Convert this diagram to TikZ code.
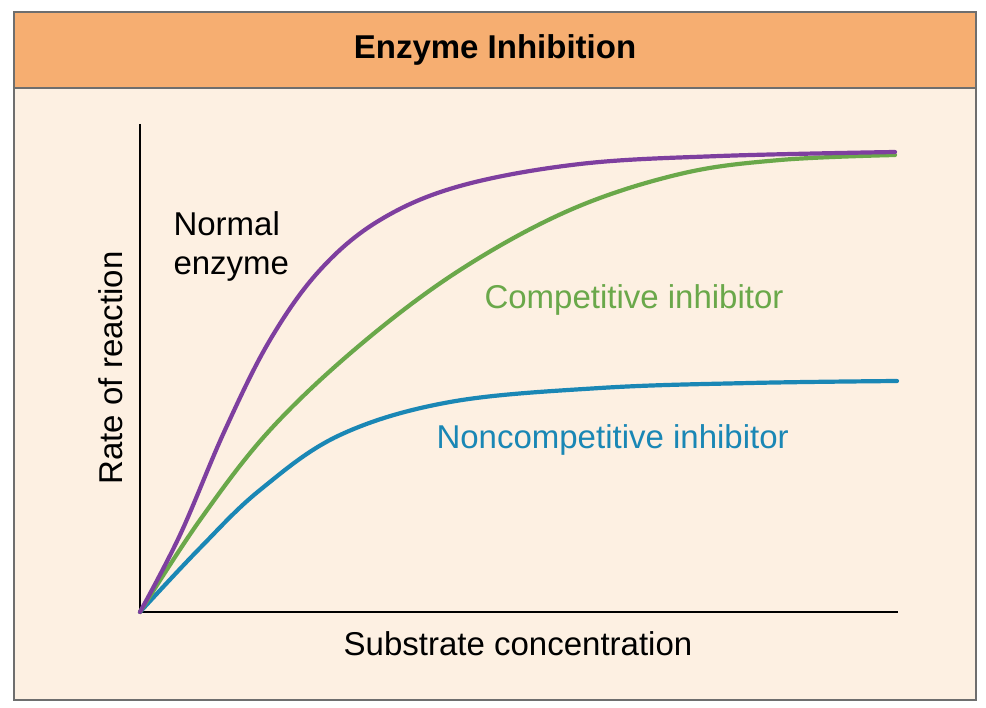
\documentclass[tikz,border=0pt]{standalone}
\usepackage{fontspec}
\setmainfont{Liberation Sans}
\definecolor{hdr}{HTML}{F6AE71}
\definecolor{bodyc}{HTML}{FDF0E2}
\definecolor{frame}{HTML}{6E6E6E}
\definecolor{cpur}{HTML}{7E3F9F}
\definecolor{cgrn}{HTML}{6AA84A}
\definecolor{cblu}{HTML}{1A87B5}
\begin{document}
\begin{tikzpicture}[x=1pt,y=-1pt,
  curve/.style={line width=4.2pt,line cap=round},
  lbl/.style={font=\fontsize{33}{39}\selectfont,align=left}]
\useasboundingbox (0,0) rectangle (986,708);
\fill[bodyc] (14,12) rectangle (976,700);
\fill[hdr] (14,12) rectangle (976,88);
\draw[frame,line width=2pt] (14,88) -- (976,88);
\draw[frame,line width=2.5pt] (14,12) rectangle (976,700);
\node[font=\bfseries\fontsize{33}{39}\selectfont] (title) at (495,50) {Enzyme Inhibition};
\coordinate (o) at (140,612);
\coordinate (ytop) at (140,124);
\coordinate (xend) at (898,612);
\draw[line width=2.2pt] (ytop) -- (o) -- (xend);
\draw[curve,cblu] plot[smooth,tension=0.6] coordinates{(o) (200,548) (260,490) (340,435) (450,402) (600,388) (750,383) (897,381)};
\draw[curve,cgrn] plot[smooth,tension=0.6] coordinates{(o) (200,520) (270,430) (360,345) (460,270) (570,210) (680,174) (780,160) (895,155)};
\draw[curve,cpur] plot[smooth,tension=0.6] coordinates{(o) (180,535) (225,430) (270,340) (320,270) (380,220) (460,186) (580,164) (720,156) (895,152)};
\node[lbl,anchor=west] (ne) at (170,246) {Normal\\enzyme};
\node[lbl,anchor=west,text=cgrn] (ci) at (481,300) {Competitive inhibitor};
\node[lbl,anchor=west,text=cblu] (nci) at (433,440) {Noncompetitive inhibitor};
\node[lbl] (xl) at (518,644) {Substrate concentration};
\node[lbl,rotate=90] (yl) at (111,368) {Rate of reaction};
\end{tikzpicture}
\end{document}
